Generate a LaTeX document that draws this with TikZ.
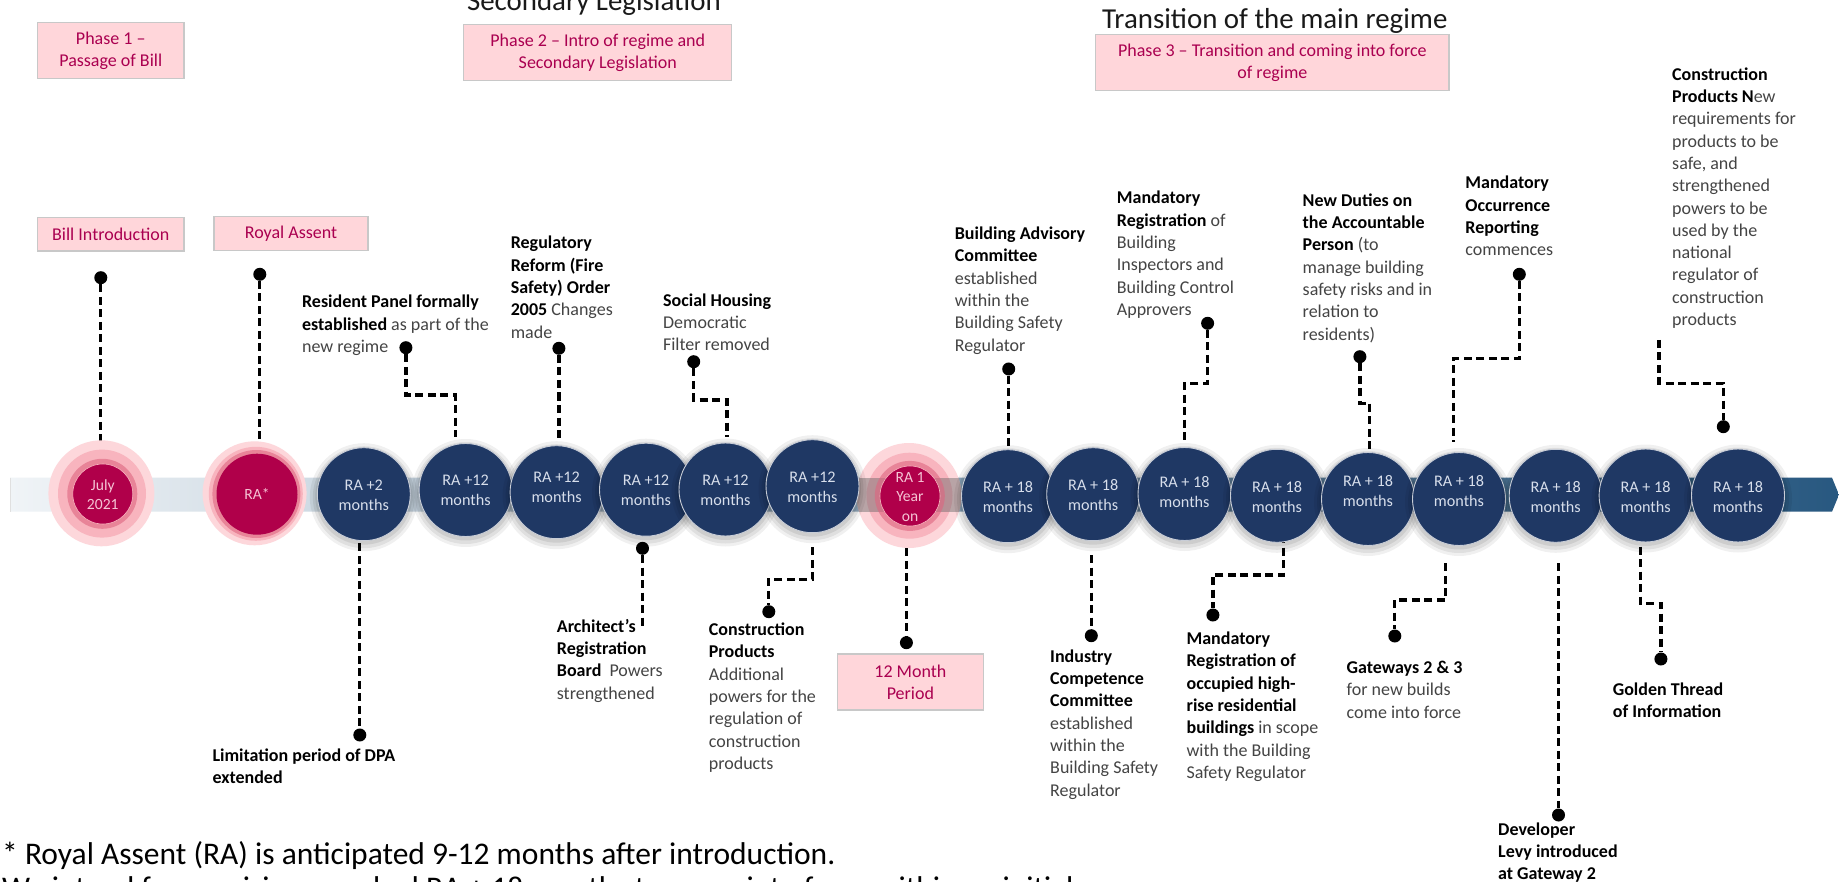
\documentclass[tikz,border=0pt]{standalone}
\usepackage{fontspec}
\setmainfont{Carlito}
\usetikzlibrary{calc}
\definecolor{navy}{RGB}{31,56,100}
\definecolor{navyline}{RGB}{200,205,215}
\definecolor{ctext}{RGB}{215,222,235}
\definecolor{crimson}{RGB}{176,0,74}
\definecolor{haloA}{RGB}{253,215,219}
\definecolor{haloB}{RGB}{248,180,190}
\definecolor{haloC}{RGB}{222,100,128}
\definecolor{halotext}{RGB}{245,195,212}
\definecolor{pinkfill}{RGB}{255,214,218}
\definecolor{boxline}{RGB}{200,200,200}
\definecolor{phasetext}{RGB}{170,0,80}
\definecolor{greytext}{RGB}{68,68,68}
\definecolor{titletext}{RGB}{25,25,25}
\definecolor{bandL}{RGB}{240,244,247}
\definecolor{bandM}{RGB}{198,212,223}
\definecolor{bandR}{RGB}{40,88,128}
\newcommand\gtx[1]{\textcolor{greytext}{#1}}
\newcommand\navyball[5]{%
  \fill[black,opacity=0.06] (#2,#3+3) circle[radius=54pt];
  \fill[black,opacity=0.07] (#2,#3+3) circle[radius=51pt];
  \fill[black,opacity=0.08] (#2,#3+2) circle[radius=48.5pt];
  \node[navycirc] (#1) at (#2,#3) {};
  \node[circtext] (#1t) at (#2,#4) {#5};
}
\begin{document}
\begin{tikzpicture}[x=1pt,y=-1pt,
  pinkbox/.style={draw=boxline,line width=1.3pt,fill=pinkfill,text=phasetext,font=\fontsize{18}{22.3}\selectfont,align=center,inner sep=0pt},
  lbl/.style={anchor=north west,inner sep=0pt,align=left,font=\fontsize{18}{22.3}\selectfont,text=black},
  pin/.style={circle,fill=black,inner sep=0pt,minimum size=13pt},
  conn/.style={draw=black,line width=3.2pt,dash pattern=on 8pt off 4.5pt},
  navycirc/.style={circle,fill=navy,draw=navyline,line width=0.9pt,inner sep=0pt,minimum size=93pt},
  circtext/.style={text=ctext,font=\fontsize{16.2}{20}\selectfont,align=center,inner sep=0pt},
  halotxt/.style={text=halotext,font=\fontsize{15.6}{19.5}\selectfont,align=center,inner sep=0pt},
  title/.style={anchor=base west,inner sep=0pt,font=\fontsize{28.9}{32}\selectfont,text=titletext},
  foot/.style={anchor=base west,inner sep=0pt,font=\fontsize{31.5}{36}\selectfont,text=black}
]
\useasboundingbox[fill=white] (0,0) rectangle (1839,882);

% titles (partly cut)
\node[title] (t2) at (466.8,10.5) {Secondary Legislation};
\node[title] (t3) at (1102,28.3) {Transition of the main regime};

% phase boxes
\node[pinkbox,minimum width=146.3pt,minimum height=56.4pt] (ph1) at (110.75,50.5) {Phase 1 –\\Passage of Bill};
\node[pinkbox,minimum width=267.9pt,minimum height=56pt] (ph2) at (597.75,52.7) {Phase 2 – Intro of regime and\\Secondary Legislation};
\node[pinkbox,minimum width=353.2pt,minimum height=55.6pt] (ph3) at (1272.4,62.5) {Phase 3 – Transition and coming into force\\of regime};
\node[pinkbox,minimum width=146.3pt,minimum height=33.3pt] (bill) at (110.75,234.35) {Bill Introduction};
\node[pinkbox,minimum width=154pt,minimum height=33.6pt] (royal) at (291,233.5) {Royal Assent};
\node[pinkbox,minimum width=146.2pt,minimum height=56pt] (m12) at (910.4,682) {12 Month\\Period};

% timeline band
\shade[left color=bandL,middle color=bandM,right color=bandR]
  (10,477.7) -- (1832,477.7) -- (1839,494.7) -- (1832,511.7) -- (10,511.7) -- cycle;
\draw[black!12,line width=0.6pt] (10,477.7) -- (10,511.7);

% pins
\node[pin] (dB) at (100.8,277.7) {};
\node[pin] (dR) at (259.8,274.3) {};
\node[pin] (dRP) at (405.9,347.7) {};
\node[pin] (dRR) at (558.9,348.3) {};
\node[pin] (dSH) at (693.7,361.7) {};
\node[pin] (dBA) at (1008.7,369) {};
\node[pin] (dMR) at (1207.6,323.3) {};
\node[pin] (dND) at (1359.9,356.7) {};
\node[pin] (dMO) at (1519.3,274.3) {};
\node[pin] (dCP) at (1723.3,426.7) {};
\node[pin] (dL) at (359.8,735) {};
\node[pin] (dA) at (642.5,548.3) {};
\node[pin] (dCL) at (768.8,611.7) {};
\node[pin] (dM) at (906.4,642.7) {};
\node[pin] (dI) at (1091.3,635.7) {};
\node[pin] (dMO2) at (1212.9,615) {};
\node[pin] (dG) at (1394.8,636) {};
\node[pin] (dD) at (1558.5,815) {};
\node[pin] (dGT) at (1660.9,659) {};

% connector ends
\coordinate (eB) at (100.8,444);
\coordinate (eR) at (259.8,443);
\coordinate (eRP) at (455.3,437);
\coordinate (eRR) at (558.9,442);
\coordinate (eSH) at (726.9,437);
\coordinate (eBA) at (1008.7,447);
\coordinate (eMR) at (1184.7,440);
\coordinate (eND) at (1369.7,451.7);
\coordinate (eMO) at (1453.6,441.7);
\coordinate (sCP) at (1659,340);
\coordinate (sL) at (359.8,543.3);
\coordinate (eA) at (642.5,628.3);
\coordinate (sCL) at (812.7,547.3);
\coordinate (sM) at (906.4,548.3);
\coordinate (sI) at (1091.3,555);
\coordinate (sMO2) at (1283.3,535);
\coordinate (sG) at (1445.4,563.3);
\coordinate (sD) at (1558.5,563.3);
\coordinate (sGT) at (1640.3,546.7);

% connectors
\draw[conn] (dB) -- (eB);
\draw[conn] (dR) -- (eR);
\draw[conn] (dRP) -- ++(0,47.3) -| (eRP);
\draw[conn] (dRR) -- (eRR);
\draw[conn] (dSH) -- ++(0,38.3) -| (eSH);
\draw[conn] (dBA) -- (eBA);
\draw[conn] (dMR) -- ++(0,60) -| (eMR);
\draw[conn] (dND) -- ++(0,46.6) -| (eND);
\draw[conn] (dMO) -- ++(0,84) -| (eMO);
\draw[conn] (sCP) -- ++(0,43.3) -| (dCP);
\draw[conn] (sL) -- (dL);
\draw[conn] (dA) -- (eA);
\draw[conn] (sCL) -- ++(0,32) -| (dCL);
\draw[conn] (sM) -- (dM);
\draw[conn] (sI) -- (dI);
\draw[conn] (sMO2) -- ++(0,40) -| (dMO2);
\draw[conn] (sG) -- ++(0,36.7) -| (dG);
\draw[conn] (sD) -- (dD);
\draw[conn] (sGT) -- ++(0,56.6) -| (dGT);

% halos
\node[circle,fill=haloA,inner sep=0pt,minimum size=106pt] (h1) at (101.4,493.3) {};
\node[circle,fill=haloB,inner sep=0pt,minimum size=88pt] (h1b) at (102,493.6) {};
\node[circle,fill=haloC,opacity=0.6,inner sep=0pt,minimum size=70pt] (h1c) at (102.3,493.8) {};
\node[circle,fill=crimson,draw=haloB,line width=0.6pt,inner sep=0pt,minimum size=60pt] (jul) at (102.8,494) {};
\node[halotxt] (jult) at (102.8,494.5) {July\\2021};

\node[circle,fill=haloA,inner sep=0pt,minimum size=104pt] (h2) at (254.6,493.3) {};
\node[circle,fill=haloB,inner sep=0pt,minimum size=94pt] (h2b) at (255.8,493.8) {};
\node[circle,fill=haloC,opacity=0.6,inner sep=0pt,minimum size=88pt] (h2c) at (256.4,494) {};
\node[circle,fill=crimson,inner sep=0pt,minimum size=81pt] (ra) at (257,494.2) {};
\node[halotxt] (rat) at (257,494.2) {RA*};

\node[circle,fill=haloA,inner sep=0pt,minimum size=105pt] (h3) at (909,495.5) {};
\node[circle,fill=haloB,inner sep=0pt,minimum size=86pt] (h3b) at (909.5,495.7) {};
\begin{scope}
  \clip (909,495.5) circle[radius=52.5pt];
  \fill[black!60,opacity=0.45] (850,477.7) rectangle (970,511.7);
\end{scope}
\node[circle,fill=haloC,opacity=0.6,inner sep=0pt,minimum size=70pt] (h3c) at (909.8,495.9) {};
\node[circle,fill=crimson,draw=haloB,line width=0.6pt,inner sep=0pt,minimum size=60pt] (ry) at (910,496) {};
\node[halotxt] (ryt) at (910,497) {RA 1\\Year\\on};

% navy circles
\navyball{c1}{363.8}{494.2}{495.3}{RA +2\\months}
\navyball{c2}{465.6}{490}{490.7}{RA +12\\months}
\navyball{c3}{556.6}{492.2}{487.3}{RA +12\\months}
\navyball{c4}{646}{489.7}{490}{RA +12\\months}
\navyball{c5}{725.5}{489.5}{490}{RA +12\\months}
\navyball{c6}{812.5}{486.2}{487.3}{RA +12\\months}
\navyball{c7}{1008}{496.2}{497.3}{RA + 18\\months}
\navyball{c8}{1093.2}{494.2}{495}{RA + 18\\months}
\navyball{c9}{1184.5}{494}{492.5}{RA + 18\\months}
\navyball{c10}{1277}{495.8}{496.7}{RA + 18\\months}
\navyball{c11}{1368}{499}{491.2}{RA + 18\\months}
\navyball{c12}{1459}{499}{491}{RA + 18\\months}
\navyball{c13}{1555.7}{495.8}{496.7}{RA + 18\\months}
\navyball{c14}{1645.6}{495.5}{496.7}{RA + 18\\months}
\navyball{c15}{1738}{495.5}{496.7}{RA + 18\\months}

% upper labels
\node[lbl] (lRP) at (301.9,292.1) {\strut\textbf{Resident Panel formally}\\\textbf{established} \gtx{as part of the}\\\gtx{new regime}};
\node[lbl] (lRR) at (510.6,233.1) {\strut\textbf{Regulatory}\\\textbf{Reform (Fire}\\\textbf{Safety) Order}\\\textbf{2005} \gtx{Changes}\\\gtx{made}};
\node[lbl] (lSH) at (662.9,290.4) {\strut\textbf{Social Housing}\\\gtx{Democratic}\\\gtx{Filter removed}};
\node[lbl] (lBA) at (954.6,223.7) {\strut\textbf{Building Advisory}\\\textbf{Committee}\\\gtx{established}\\\gtx{within the}\\\gtx{Building Safety}\\\gtx{Regulator}};
\node[lbl] (lMR) at (1116.7,188.1) {\strut\textbf{Mandatory}\\\textbf{Registration} \gtx{of}\\\gtx{Building}\\\gtx{Inspectors and}\\\gtx{Building Control}\\\gtx{Approvers}};
\node[lbl] (lND) at (1302.5,190.4) {\strut\textbf{New Duties on}\\\textbf{the Accountable}\\\textbf{Person} \gtx{(to}\\\gtx{manage building}\\\gtx{safety risks and in}\\\gtx{relation to}\\\gtx{residents)}};
\node[lbl] (lMO) at (1465.2,173.1) {\strut\textbf{Mandatory}\\\textbf{Occurrence}\\\textbf{Reporting}\\\gtx{commences}};
\node[lbl] (lCP) at (1672,64.4) {\strut\textbf{Construction}\\\textbf{Products N}\gtx{ew}\\\gtx{requirements for}\\\gtx{products to be}\\\gtx{safe, and}\\\gtx{strengthened}\\\gtx{powers to be}\\\gtx{used by the}\\\gtx{national}\\\gtx{regulator of}\\\gtx{construction}\\\gtx{products}};

% lower labels
\node[lbl] (lL) at (212.3,745.4) {\strut\textbf{Limitation period of DPA}\\\textbf{extended}};
\node[lbl] (lA) at (556.7,616.4) {\strut\textbf{Architect’s}\\\textbf{Registration}\\\textbf{Board}\ \ \gtx{Powers}\\\gtx{strengthened}};
\node[lbl] (lCL) at (708.7,619.7) {\strut\textbf{Construction}\\\textbf{Products}\\\gtx{Additional}\\\gtx{powers for the}\\\gtx{regulation of}\\\gtx{construction}\\\gtx{products}};
\node[lbl] (lI) at (1050,646.4) {\strut\textbf{Industry}\\\textbf{Competence}\\\textbf{Committee}\\\gtx{established}\\\gtx{within the}\\\gtx{Building Safety}\\\gtx{Regulator}};
\node[lbl] (lMO2) at (1186.4,628.7) {\strut\textbf{Mandatory}\\\textbf{Registration of}\\\textbf{occupied high-}\\\textbf{rise residential}\\\textbf{buildings} \gtx{in scope}\\\gtx{with the Building}\\\gtx{Safety Regulator}};
\node[lbl] (lG) at (1346.5,657.7) {\strut\textbf{Gateways 2 \& 3}\\\gtx{for new builds}\\\gtx{come into force}};
\node[lbl] (lD) at (1498,819.4) {\strut\textbf{Developer}\\\textbf{Levy introduced}\\\textbf{at Gateway 2}};
\node[lbl] (lGT) at (1612.6,679.4) {\strut\textbf{Golden Thread}\\\textbf{of Information}};

% footnotes
\node[foot] (fn1) at (2,864) {* Royal Assent (RA) is anticipated 9-12 months after introduction.};
\node[foot] (fn2) at (2,898) {We intend for provisions marked RA + 18 months to come into force within an initial};
\end{tikzpicture}
\end{document}
